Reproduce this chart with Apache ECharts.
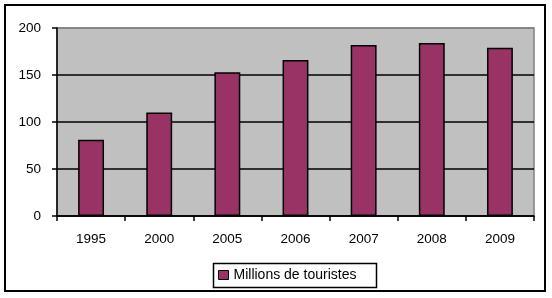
<!DOCTYPE html>
<html><head><meta charset="utf-8">
<script src="https://cdn.jsdelivr.net/npm/echarts@6/dist/echarts.min.js"></script>
<style>html,body{margin:0;padding:0;background:#fff}#c{width:552px;height:298px}</style>
</head><body><div id="c"></div>
<script>
const categories = ['1995','2000','2005','2006','2007','2008','2009'];
const touristes = [81, 110, 153, 166, 182, 184, 179];
const seriesName = 'Millions de touristes';
const yTicks = {min: 0, max: 200, interval: 50};

const chart = echarts.init(document.getElementById('c'), null, {renderer: 'canvas'});
const font = 'Liberation Sans, Arial, sans-serif';
chart.setOption({
  animation: false,
  backgroundColor: '#fff',
  textStyle: {fontFamily: font},
  grid: {left: 57, right: 18, top: 28, bottom: 82, show: true, backgroundColor: '#C0C0C0', borderColor: '#808080', borderWidth: 1.5},
  xAxis: {
    type: 'category', data: categories, boundaryGap: true,
    axisLine: {lineStyle: {color: '#000', width: 1.5}},
    axisTick: {show: true, length: 5, lineStyle: {color: '#000', width: 1.5}},
    axisLabel: {color: '#000', fontSize: 13.5, margin: 16, fontFamily: font},
    splitLine: {show: false}
  },
  yAxis: {
    type: 'value', min: yTicks.min, max: yTicks.max, interval: yTicks.interval,
    axisLine: {show: true, lineStyle: {color: '#000', width: 1.5}},
    axisTick: {show: true, length: 5, lineStyle: {color: '#000', width: 1.5}},
    axisLabel: {color: '#000', fontSize: 13.5, margin: 16, fontFamily: font},
    splitLine: {show: true, lineStyle: {color: ['#000','#000','#000','#000','#808080'], width: 1.5}}
  },
  legend: {
    left: 213, top: 268, orient: 'horizontal',
    data: [seriesName],
    icon: 'rect', itemWidth: 10, itemHeight: 9, itemGap: 0,
    padding: [0, 0, 0, 5],
    itemStyle: {borderColor: '#000', borderWidth: 1},
    textStyle: {color: '#000', fontSize: 14, fontFamily: font},
    selectedMode: false
  },
  series: [{
    name: seriesName, type: 'bar', data: touristes, barWidth: '38%',
    itemStyle: {color: '#993366', borderColor: '#000', borderWidth: 1.5}
  }],
  graphic: [{
    type: 'rect', z: 100, silent: true,
    shape: {x: 5, y: 5, width: 540, height: 286},
    style: {fill: 'none', stroke: '#000', lineWidth: 2}
  }, {
    type: 'rect', z: 100, silent: true,
    shape: {x: 213.5, y: 263.5, width: 163, height: 24},
    style: {fill: 'none', stroke: '#000', lineWidth: 1.5}
  }]
});
</script></body></html>
